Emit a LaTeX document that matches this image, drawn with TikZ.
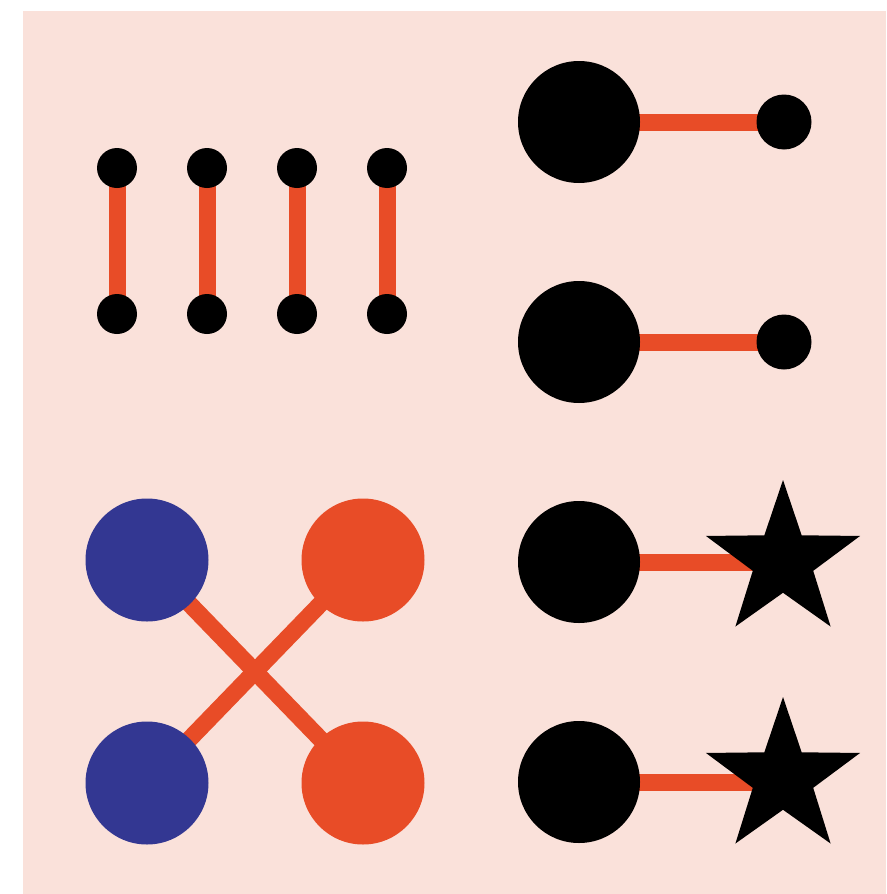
\documentclass[tikz,border=0pt]{standalone}
\usetikzlibrary{shapes.geometric}
\definecolor{bgpink}{HTML}{FAE1DA}
\definecolor{linkred}{HTML}{E84C27}
\definecolor{dotblue}{HTML}{333792}
\pgfdeclarelayer{bg}
\pgfdeclarelayer{edges}
\pgfsetlayers{bg,edges,main}
\tikzset{
  dot/.style={circle,fill=black,draw=none,inner sep=0pt,minimum size=40pt},
  bigdot/.style={circle,fill=black,draw=none,inner sep=0pt,minimum size=122pt},
  smalldot/.style={circle,fill=black,draw=none,inner sep=0pt,minimum size=55pt},
  bluedot/.style={circle,fill=dotblue,draw=none,inner sep=0pt,minimum size=123pt},
  reddot/.style={circle,fill=linkred,draw=none,inner sep=0pt,minimum size=123pt},
  starnode/.style={star,star points=5,star point ratio=2.55,fill=black,draw=none,inner sep=0pt,minimum size=162pt},
  link/.style={draw=linkred,line width=17pt}
}
\begin{document}
\begin{tikzpicture}[x=1pt,y=-1pt]
\useasboundingbox (0,0) rectangle (886,894);
\begin{pgfonlayer}{bg}
\fill[bgpink] (23,11) rectangle (886,894);
\end{pgfonlayer}
% dumbbells
\foreach \i/\x in {1/117,2/207,3/297,4/387}{
  \node[dot] (t\i) at (\x,168) {};
  \node[dot] (b\i) at (\x,314) {};
}
% right column
\node[bigdot] (c1) at (579,122) {};
\node[smalldot] (e1) at (784,122) {};
\node[bigdot] (c2) at (579,342) {};
\node[smalldot] (e2) at (784,342) {};
\node[bigdot] (c3) at (579,562) {};
\node[starnode] (s3) at (783,561) {};
\node[bigdot] (c4) at (579,782) {};
\node[starnode] (s4) at (783,778) {};
% cross
\node[bluedot] (bl1) at (147,560) {};
\node[reddot] (rd1) at (363,560) {};
\node[bluedot] (bl2) at (147,783) {};
\node[reddot] (rd2) at (363,783) {};
\begin{pgfonlayer}{edges}
\foreach \i in {1,2,3,4}{ \draw[link] (t\i.center) -- (b\i.center); }
\draw[link] (c1.center) -- (e1.center);
\draw[link] (c2.center) -- (e2.center);
\draw[link] (c3.center) -- (c3.center -| s3.center);
\draw[link] (c4.center) -- (c4.center -| s4.center);
\draw[link] (bl1.center) -- (rd2.center);
\draw[link] (rd1.center) -- (bl2.center);
\end{pgfonlayer}
\end{tikzpicture}
\end{document}
